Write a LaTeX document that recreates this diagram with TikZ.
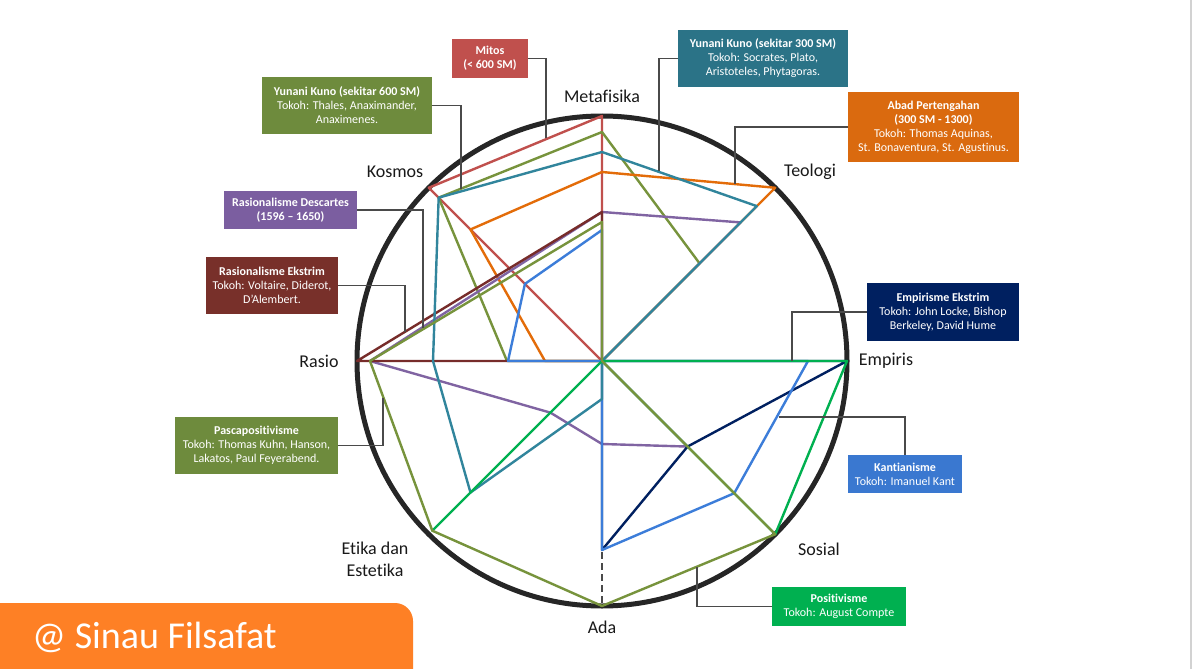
\documentclass[tikz,border=0pt]{standalone}
\usepackage{fontspec}
\setmainfont{Carlito}[Ligatures={NoCommon}]
\definecolor{cRed}{HTML}{C0504D}
\definecolor{cOlive}{HTML}{77933C}
\definecolor{cOliveBox}{HTML}{6E8B3D}
\definecolor{cTeal}{HTML}{31859C}
\definecolor{cTealBox}{HTML}{2B7387}
\definecolor{cOrange}{HTML}{E36C09}
\definecolor{cOrangeBox}{HTML}{DA6A0F}
\definecolor{cPurple}{HTML}{8064A2}
\definecolor{cPurpleBox}{HTML}{7B5EA0}
\definecolor{cDarkRed}{HTML}{772C2A}
\definecolor{cDarkRedBox}{HTML}{78302A}
\definecolor{cNavy}{HTML}{002060}
\definecolor{cBlue}{HTML}{3C7DD9}
\definecolor{cBlueBox}{HTML}{3A78D0}
\definecolor{cGreen}{HTML}{00B050}
\definecolor{cWm}{HTML}{FE8025}
\definecolor{cRing}{HTML}{262626}
\definecolor{cLead}{HTML}{4A4A4A}
\begin{document}
\begin{tikzpicture}[x=1pt,y=-1pt,
  ser/.style={line width=2.4pt, line join=round},
  infobox/.style={inner sep=0pt, align=center, text=white,
     font=\fontsize{12}{14}\selectfont},
  axlabel/.style={inner sep=0pt, align=center, text=black!90,
     font=\fontsize{18}{22}\selectfont},
  leader/.style={draw=cLead, line width=1.2pt}
]
\useasboundingbox (0,0) rectangle (1195,669);
\fill[white] (0,0) rectangle (1195,669);
\draw[gray!35, line width=2pt] (1191,0) -- (1191,669);

% ring
\coordinate (C) at (602,361);
\draw[cRing, line width=5pt] (C) circle[radius=245pt];

% series (Meta -90, Teologi -45, Empiris 0, Sosial 45, Ada 90, Etika 135, Rasio 180, Kosmos -135)
\begin{scope}[shift={(602,361)}]
\draw[ser, cRed] (-90:245) -- (0,0) -- (-135:245) -- cycle;
\draw[ser, cOlive] (-90:229) -- (-45:138) -- (0,0) -- (180:95) -- (-135:231) -- cycle;
\draw[ser, cOrange] (-90:189) -- (-45:245) -- (0,0) -- (180:57) -- (-135:186) -- cycle;
\draw[ser, cPurple] (-90:149) -- (-45:196) -- (0,0) -- (45:121) -- (90:83) -- (135:73) -- (180:232) -- cycle;
\draw[ser, cDarkRed] (-90:149) -- (0,0) -- (180:245) -- cycle;
\draw[ser, cNavy] (0,0) -- (0:245) -- (45:121) -- (90:189) -- cycle;
\draw[ser, cBlue] (-90:131) -- (0,0) -- (0:206) -- (45:187) -- (90:189) -- (0,0) -- (180:94) -- (-135:109) -- cycle;
\draw[ser, cTeal] (-90:209) -- (-45:219) -- (0,0) -- (90:38) -- (135:186) -- (180:169) -- (-135:231) -- cycle;
\draw[ser, cGreen] (0,0) -- (0:245) -- (45:245) -- (0,0) -- (135:240) -- cycle;
\draw[ser, cOlive] (-90:139) -- (0,0) -- (45:245) -- (90:245) -- (135:240) -- (180:232) -- cycle;
\coordinate (adaIn) at (90:191);
\coordinate (adaOut) at (90:245);
\end{scope}
\draw[cLead, line width=1.2pt, dash pattern=on 7pt off 4pt] (adaIn) -- (adaOut);

% axis labels
\node[axlabel] (lMeta) at (602,96) {Metafisika};
\node[axlabel] (lTeo) at (810,172) {Teologi};
\node[axlabel] (lEmp) at (886,361) {Empiris};
\node[axlabel] (lSos) at (819,549) {Sosial};
\node[axlabel] (lAda) at (602,627) {Ada};
\node[axlabel] (lEti) at (375,559) {Etika dan\\Estetika};
\node[axlabel] (lRas) at (319,361) {Rasio};
\node[axlabel] (lKos) at (395,172) {Kosmos};

% boxes
\node[infobox, fill=cRed, minimum width=76pt, minimum height=39pt] (mitos) at (490,58.5)
  {\textbf{Mitos}\\\textbf{(< 600 SM)}};
\node[infobox, fill=cOliveBox, minimum width=170pt, minimum height=57pt] (yk600) at (347,105.5)
  {\textbf{Yunani Kuno (sekitar 600 SM)}\\Tokoh: Thales, Anaximander,\\Anaximenes.};
\node[infobox, fill=cTealBox, minimum width=170pt, minimum height=57pt] (yk300) at (763,58.5)
  {\textbf{Yunani Kuno (sekitar 300 SM)}\\Tokoh: Socrates, Plato,\\Aristoteles, Phytagoras.};
\node[infobox, fill=cOrangeBox, minimum width=171pt, minimum height=70pt] (abad) at (933.5,127)
  {\textbf{Abad Pertengahan}\\\textbf{(300 SM - 1300)}\\Tokoh: Thomas Aquinas,\\St. Bonaventura, St. Agustinus.};
\node[infobox, fill=cPurpleBox, minimum width=133pt, minimum height=38pt] (desc) at (290.5,210)
  {\textbf{Rasionalisme Descartes}\\\textbf{(1596 – 1650)}};
\node[infobox, fill=cDarkRedBox, minimum width=132pt, minimum height=57pt] (rasek) at (272,285.5)
  {\textbf{Rasionalisme Ekstrim}\\Tokoh: Voltaire, Diderot,\\D’Alembert.};
\node[infobox, fill=cNavy, minimum width=152pt, minimum height=58pt] (empek) at (943,312)
  {\textbf{Empirisme Ekstrim}\\Tokoh: John Locke, Bishop\\Berkeley, David Hume};
\node[infobox, fill=cBlueBox, minimum width=114pt, minimum height=38pt] (kant) at (905,474)
  {\textbf{Kantianisme}\\Tokoh: Imanuel Kant};
\node[infobox, fill=cOliveBox, minimum width=163pt, minimum height=57pt] (pasca) at (256.5,445.5)
  {\textbf{Pascapositivisme}\\Tokoh: Thomas Kuhn, Hanson,\\Lakatos, Paul Feyerabend.};
\node[infobox, fill=cGreen, minimum width=134pt, minimum height=39pt] (posit) at (839,606.5)
  {\textbf{Positivisme}\\Tokoh: August Compte};

% leader end points
\coordinate (eMitos) at (546,138);
\coordinate (eYk600) at (461,189);
\coordinate (eYk300) at (659,171);
\coordinate (eAbad) at (735,184);
\coordinate (eDesc) at (423,328);
\coordinate (eRasek) at (405,332);
\coordinate (eEmpek) at (792,361);
\coordinate (eKant) at (779,417);
\coordinate (ePasca) at (383,398);
\coordinate (ePosit) at (697,567);

\draw[leader] (mitos.east) -| (eMitos);
\draw[leader] (yk600.east) -| (eYk600);
\draw[leader] (yk300.west) -| (eYk300);
\draw[leader] (abad.west) -| (eAbad);
\draw[leader] (desc.east) -| (eDesc);
\draw[leader] (rasek.east) -| (eRasek);
\draw[leader] (empek.west) -| (eEmpek);
\draw[leader] (kant.north) |- (eKant);
\draw[leader] (pasca.east) -| (ePasca);
\draw[leader] (posit.west) -| (ePosit);

% watermark
\fill[cWm, rounded corners=18pt] (-30,603) rectangle (413,700);
\node[anchor=west, inner sep=0pt, text=white, font=\fontsize{38}{42}\selectfont] (wm) at (32,637) {@ Sinau Filsafat};
\end{tikzpicture}
\end{document}
